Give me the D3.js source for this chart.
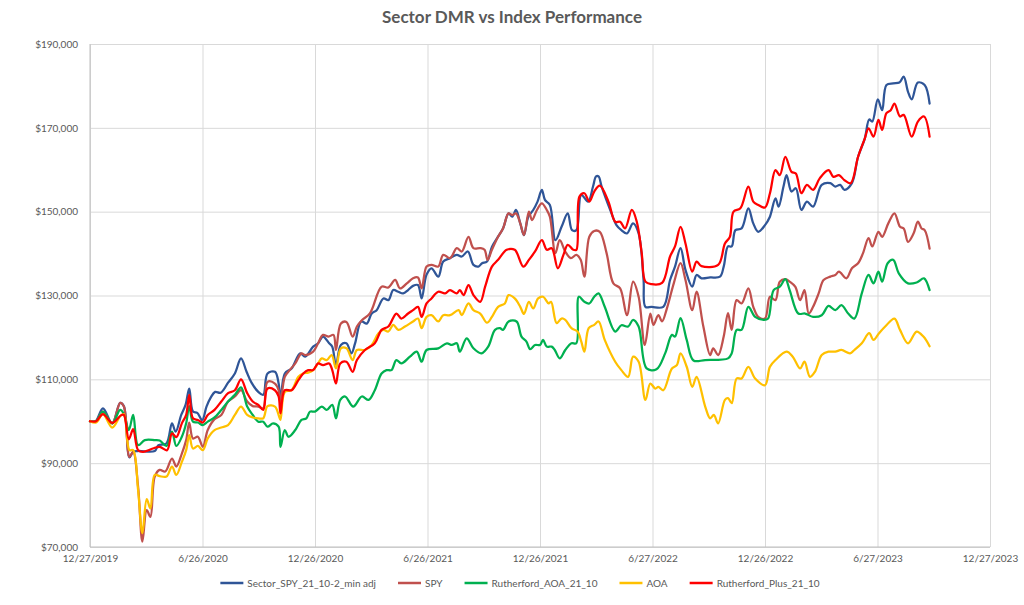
<!DOCTYPE html>
<html><head><meta charset="utf-8">
<script src="https://cdn.jsdelivr.net/npm/d3@7/dist/d3.min.js"></script>
<style>
body{margin:0;background:#fff;}
text{font-family:Lato,"Open Sans",sans-serif;}
</style>
</head><body>
<svg id="chart" width="1024" height="605"></svg>
<script>
// Values in $ thousands; first number of each pair = days after 12/27/2019
const chartTitle = "Sector DMR vs Index Performance";
const xTickDays = [0, 182.5, 365, 547.5, 730, 912.5, 1095, 1277.5, 1460];
const xTickLabels = ["12/27/2019","6/26/2020","12/26/2020","6/26/2021","12/26/2021","6/27/2022","12/26/2022","6/27/2023","12/27/2023"];
const yTicks = [70, 90, 110, 130, 150, 170, 190];
const seriesNames = ["Sector_SPY_21_10-2_min adj","SPY","Rutherford_AOA_21_10","AOA","Rutherford_Plus_21_10"];

const sectorSeries = [[0,100.0],[9,100.0],[21,103.1],[36,99.5],[49,104.4],[55,103.6],[64,91.4],[70,92.7],[78,92.9],[105,92.9],[111,94.3],[124,94.7],[133,99.5],[139,97.5],[148,101.5],[155,103.9],[161,107.8],[167,102.3],[174,102.0],[182,100.3],[189,103.5],[196,105.7],[203,107.0],[212,106.8],[224,109.2],[235,111.4],[245,115.0],[254,111.8],[262,109.2],[273,107.0],[281,106.3],[288,111.4],[300,111.8],[306,109.0],[309,105.1],[316,111.4],[327,112.6],[341,116.2],[349,115.4],[362,117.8],[370,118.6],[378,120.2],[388,118.6],[393,117.8],[399,113.4],[407,118.2],[416,118.6],[424,116.2],[430,118.6],[440,123.8],[449,123.3],[457,125.7],[465,126.5],[476,129.3],[484,128.9],[492,131.3],[500,130.9],[508,130.5],[516,131.3],[524,132.3],[532,132.5],[538,129.3],[546,135.0],[554,136.5],[565,134.5],[573,138.1],[584,138.9],[595,139.7],[603,139.3],[613,140.5],[622,137.3],[630,136.9],[636,137.7],[644,138.1],[652,141.6],[660,143.6],[670,146.0],[679,149.6],[685,148.8],[691,150.4],[698,147.2],[704,144.4],[711,148.8],[719,150.4],[726,152.4],[733,155.2],[738,152.8],[746,151.6],[755,143.2],[765,146.4],[775,149.6],[782,145.6],[789,145.6],[797,154.0],[808,152.4],[816,156.0],[821,158.4],[825,158.4],[830,156.0],[844,150.4],[854,146.8],[862,145.6],[871,144.8],[881,147.2],[890,144.8],[898,133.7],[901,127.3],[911,127.3],[930,127.3],[941,133.7],[949,136.9],[958,141.3],[966,136.1],[977,132.1],[984,134.9],[992,134.1],[1006,134.3],[1022,134.5],[1028,136.9],[1035,141.7],[1041,141.7],[1047,145.6],[1057,146.0],[1068,150.8],[1076,147.2],[1084,145.2],[1095,146.8],[1103,148.8],[1112,153.2],[1117,151.2],[1125,156.0],[1130,158.7],[1138,154.8],[1145,155.6],[1154,150.4],[1163,152.4],[1173,151.2],[1187,156.4],[1201,156.8],[1209,156.0],[1217,156.4],[1224,155.2],[1236,156.8],[1246,163.1],[1257,167.5],[1264,172.0],[1269,171.5],[1278,176.8],[1285,174.2],[1292,180.2],[1303,180.6],[1313,180.8],[1320,182.2],[1327,178.6],[1333,176.8],[1343,180.8],[1354,180.2],[1362,175.8]];

const spySeries = [[0,100.0],[10,100.0],[21,102.3],[36,99.5],[49,104.4],[55,103.5],[64,91.5],[70,92.7],[78,84.4],[85,71.3],[92,78.8],[98,77.2],[105,86.8],[113,88.4],[122,88.0],[133,91.1],[140,89.2],[149,92.3],[156,95.5],[161,99.7],[167,95.9],[175,96.3],[183,93.9],[191,97.9],[202,100.5],[213,101.5],[224,104.7],[235,105.9],[245,107.4],[255,104.7],[264,103.6],[273,103.5],[281,103.1],[288,109.4],[300,109.0],[306,107.4],[309,104.3],[316,110.6],[324,112.2],[333,113.8],[343,116.2],[349,115.8],[362,116.6],[370,118.6],[378,120.6],[387,120.2],[395,120.6],[399,117.0],[407,123.3],[416,123.7],[426,120.2],[433,122.6],[441,124.1],[454,125.7],[473,132.1],[484,131.9],[495,133.7],[503,131.7],[514,132.9],[524,134.1],[532,134.3],[538,131.7],[546,136.9],[554,137.3],[565,136.9],[573,139.7],[584,138.9],[595,141.3],[603,140.5],[614,144.0],[622,141.3],[633,141.3],[640,140.9],[645,138.5],[652,140.9],[662,144.0],[670,146.0],[679,149.6],[685,149.2],[691,149.6],[698,147.2],[704,144.4],[712,150.0],[717,148.0],[725,150.4],[733,152.0],[741,150.4],[746,148.8],[755,140.1],[762,143.2],[771,140.5],[780,138.9],[789,139.7],[796,138.5],[802,134.5],[810,144.0],[818,145.4],[827,145.2],[838,140.1],[849,132.9],[860,131.7],[871,125.3],[881,133.3],[890,129.7],[900,118.2],[909,125.7],[914,123.0],[922,125.3],[928,123.8],[936,127.0],[947,132.9],[958,137.7],[966,133.7],[977,126.5],[984,130.9],[995,122.6],[1006,115.8],[1011,117.4],[1019,115.8],[1028,120.2],[1035,125.8],[1041,121.8],[1049,128.9],[1057,128.1],[1068,131.7],[1076,127.3],[1084,124.9],[1095,124.5],[1103,129.7],[1112,128.9],[1119,133.3],[1128,133.9],[1135,133.3],[1144,132.1],[1152,128.9],[1159,131.3],[1166,125.7],[1173,127.3],[1182,130.5],[1190,133.7],[1201,134.5],[1209,134.9],[1215,135.7],[1227,134.1],[1236,136.5],[1246,137.7],[1254,140.1],[1263,143.7],[1269,141.7],[1279,145.2],[1285,144.0],[1295,147.2],[1305,149.6],[1314,146.4],[1320,146.0],[1327,142.8],[1336,144.8],[1343,147.6],[1349,146.0],[1354,145.6],[1362,141.2]];

const ruthAoaSeries = [[0,100.0],[10,100.0],[21,102.3],[36,99.5],[49,102.7],[55,101.7],[63,97.9],[70,101.5],[78,94.3],[89,95.5],[105,95.5],[113,95.4],[124,94.1],[133,97.5],[140,94.1],[149,96.3],[156,99.5],[161,103.6],[167,99.9],[175,99.7],[183,99.1],[191,99.9],[202,100.9],[213,102.7],[224,104.7],[235,106.3],[245,108.1],[255,103.5],[264,101.5],[273,99.9],[281,99.9],[288,98.7],[297,99.5],[306,98.7],[309,93.9],[316,97.9],[322,96.3],[333,97.9],[343,100.3],[351,100.7],[357,102.3],[365,102.3],[376,103.5],[384,102.7],[393,103.9],[399,100.7],[406,105.1],[414,105.9],[427,103.5],[441,105.9],[452,105.1],[462,107.4],[473,111.4],[481,112.2],[489,112.2],[497,114.6],[505,113.8],[519,115.4],[530,116.6],[538,114.2],[546,117.0],[565,117.4],[579,118.6],[587,118.2],[595,118.6],[600,116.6],[611,119.8],[622,117.4],[635,116.2],[646,117.8],[657,121.8],[665,122.2],[670,121.8],[679,123.8],[692,123.8],[700,120.2],[708,119.0],[714,117.2],[722,118.2],[730,118.2],[735,119.4],[741,117.8],[749,117.8],[754,117.0],[762,115.0],[771,117.0],[781,118.6],[789,118.6],[793,129.7],[802,128.5],[810,128.1],[818,129.7],[825,130.5],[835,127.3],[852,121.4],[862,122.9],[873,122.6],[881,124.2],[890,122.6],[903,112.6],[919,112.4],[933,116.2],[944,120.6],[949,120.2],[958,124.6],[968,119.4],[979,114.5],[998,114.6],[1035,115.0],[1041,116.2],[1049,121.8],[1057,121.8],[1068,127.3],[1079,124.9],[1093,124.2],[1100,124.5],[1109,131.3],[1119,132.1],[1128,133.9],[1135,131.3],[1149,125.7],[1160,125.7],[1173,124.9],[1187,125.3],[1198,127.5],[1209,126.5],[1219,127.7],[1230,125.7],[1240,124.5],[1252,130.5],[1263,134.9],[1271,132.9],[1279,135.7],[1285,133.3],[1294,137.7],[1303,138.5],[1312,135.3],[1327,132.9],[1341,133.1],[1353,134.1],[1362,131.3]];

const aoaSeries = [[0,100.0],[10,99.7],[21,101.7],[36,98.5],[49,101.2],[55,101.7],[64,93.1],[70,93.1],[78,83.6],[85,73.3],[92,81.4],[98,79.2],[105,87.2],[113,86.9],[124,86.8],[133,89.2],[140,87.2],[149,90.3],[156,93.1],[161,96.7],[167,93.5],[175,94.1],[183,93.1],[191,95.9],[202,97.9],[213,98.5],[224,99.1],[235,101.5],[245,103.5],[255,101.5],[264,100.9],[273,100.7],[281,100.7],[288,103.6],[300,103.5],[306,101.5],[309,100.3],[316,107.0],[327,107.4],[338,110.6],[346,111.4],[354,111.6],[362,112.2],[370,113.8],[376,115.0],[384,114.6],[392,115.8],[399,112.6],[407,117.4],[416,117.4],[426,114.6],[433,117.0],[446,117.0],[457,118.2],[468,121.0],[476,121.8],[484,121.4],[492,123.0],[500,121.8],[511,122.6],[524,123.8],[532,124.5],[538,122.2],[546,124.9],[554,125.3],[565,123.8],[573,125.3],[584,125.3],[598,126.5],[603,125.3],[614,128.1],[622,126.5],[633,125.7],[644,123.5],[652,124.9],[662,127.3],[673,128.1],[679,130.1],[689,129.3],[698,127.3],[704,125.6],[712,128.5],[719,126.9],[727,129.3],[735,129.7],[744,128.1],[748,128.5],[757,123.4],[765,124.5],[771,124.2],[781,122.2],[791,121.4],[797,119.0],[802,116.6],[809,122.2],[818,123.0],[825,123.8],[835,119.4],[852,114.2],[862,112.2],[873,110.6],[881,115.4],[890,114.2],[901,105.1],[909,109.0],[917,107.8],[922,108.2],[930,107.4],[944,112.6],[952,113.4],[958,116.2],[968,113.0],[977,108.2],[984,110.6],[998,103.5],[1006,100.7],[1012,101.5],[1019,99.5],[1030,105.1],[1035,105.5],[1041,104.3],[1049,110.2],[1057,110.2],[1068,113.0],[1079,110.2],[1095,108.6],[1103,113.0],[1112,114.6],[1130,116.6],[1140,115.4],[1152,112.6],[1159,114.2],[1168,110.6],[1176,111.8],[1187,115.8],[1198,116.6],[1209,116.6],[1219,117.0],[1233,116.2],[1240,117.0],[1252,118.6],[1264,121.0],[1271,119.4],[1280,121.0],[1290,122.6],[1305,124.5],[1314,121.8],[1327,118.6],[1341,121.4],[1352,120.2],[1362,117.9]];

const ruthPlusSeries = [[0,100.0],[10,100.0],[21,101.7],[36,99.6],[51,101.5],[55,101.5],[63,95.7],[70,98.1],[78,93.1],[86,92.7],[102,93.5],[113,93.9],[125,93.1],[133,97.1],[140,96.2],[149,99.5],[156,101.5],[161,106.3],[167,100.7],[175,100.3],[183,99.7],[191,101.5],[202,102.7],[213,104.7],[224,106.7],[235,107.4],[245,110.0],[255,106.7],[264,104.7],[273,103.9],[281,102.7],[288,107.8],[300,107.4],[306,105.9],[309,101.9],[316,107.4],[327,107.4],[338,109.8],[346,111.4],[354,112.2],[362,112.2],[370,113.8],[378,113.4],[388,113.8],[393,112.2],[399,109.0],[406,113.8],[416,114.2],[426,111.8],[433,114.6],[446,117.0],[462,118.6],[473,121.8],[484,122.6],[497,125.7],[505,124.5],[516,125.7],[524,126.5],[532,127.3],[538,124.9],[546,128.1],[554,129.3],[565,130.9],[576,130.5],[584,131.3],[595,130.5],[600,131.3],[606,130.1],[614,132.5],[622,130.1],[633,128.5],[641,132.1],[652,136.9],[662,138.5],[676,140.9],[689,140.9],[703,136.9],[712,138.5],[722,140.5],[733,143.2],[741,140.9],[749,141.3],[759,136.5],[768,139.7],[775,142.1],[784,140.9],[789,140.9],[794,153.6],[802,154.4],[810,152.4],[818,154.8],[827,156.2],[841,152.4],[852,147.6],[860,147.6],[868,146.0],[879,150.4],[887,147.6],[895,140.1],[901,133.3],[911,132.7],[928,133.0],[941,139.3],[949,141.7],[958,146.4],[966,142.4],[977,135.7],[984,138.1],[992,137.0],[1019,137.3],[1030,142.4],[1038,144.0],[1044,150.0],[1055,150.8],[1068,156.0],[1076,152.4],[1084,151.6],[1095,151.0],[1103,154.4],[1112,159.9],[1119,158.7],[1128,163.1],[1138,159.5],[1145,159.1],[1154,154.4],[1163,156.4],[1173,155.2],[1184,158.0],[1198,159.9],[1206,158.3],[1215,158.7],[1224,157.5],[1234,156.8],[1246,163.1],[1257,167.5],[1263,169.9],[1271,167.9],[1279,171.9],[1285,169.5],[1292,173.5],[1299,174.2],[1305,175.8],[1314,172.7],[1320,173.1],[1333,167.9],[1343,171.5],[1353,172.7],[1362,167.9]];

const seriesColors = ["#2F5597","#C0504D","#00B050","#FFC000","#FF0000"];

(function () {
  const svg = d3.select("#chart");
  const W = 1024, H = 605;
  const pLeft = 90, pRight = 990, pTop = 44, pBottom = 547;
  const x = d3.scaleLinear().domain([0, 1460]).range([pLeft, pRight]);
  const y = d3.scaleLinear().domain([70, 190]).range([pBottom, pTop]);
  const textColor = "#595959";
  const gridColor = "#D9D9D9";
  const fontFam = "Lato, 'Open Sans', sans-serif";
  const smallFont = 10;

  svg.append("rect").attr("width", W).attr("height", H).attr("fill", "#fff");

  svg.append("text").attr("x", 512).attr("y", 23).attr("text-anchor", "middle")
    .attr("font-size", 17).attr("font-weight", "bold").attr("fill", textColor).text(chartTitle);

  const yAxis = d3.axisLeft(y).tickValues(yTicks).tickSize(-(pRight - pLeft)).tickPadding(12)
    .tickFormat(d => "$" + d3.format(",")(d * 1000));
  const gy = svg.append("g").attr("transform", `translate(${pLeft},0)`).call(yAxis);
  gy.select(".domain").remove();
  gy.selectAll(".tick line").attr("stroke", gridColor).attr("stroke-width", 1);
  gy.selectAll(".tick text").attr("fill", textColor).attr("font-size", smallFont).attr("font-family", fontFam);

  const xAxis = d3.axisBottom(x).tickValues(xTickDays).tickSize(-(pBottom - pTop)).tickPadding(8)
    .tickFormat((d, i) => xTickLabels[i]);
  const gx = svg.append("g").attr("transform", `translate(0,${pBottom})`).call(xAxis);
  gx.select(".domain").remove();
  gx.selectAll(".tick line").attr("stroke", gridColor).attr("stroke-width", 1);
  gx.selectAll(".tick text").attr("fill", textColor).attr("font-size", smallFont).attr("font-family", fontFam);

  svg.append("line").attr("x1", pLeft).attr("x2", pLeft).attr("y1", pTop).attr("y2", pBottom)
    .attr("stroke", "#BFBFBF").attr("stroke-width", 1);
  svg.append("line").attr("x1", pLeft).attr("x2", pRight).attr("y1", pBottom).attr("y2", pBottom)
    .attr("stroke", "#BFBFBF").attr("stroke-width", 1);

  const line = d3.line().x(d => x(d[0])).y(d => y(d[1])).curve(d3.curveCatmullRom.alpha(0.5));
  const allSeries = [sectorSeries, spySeries, ruthAoaSeries, aoaSeries, ruthPlusSeries];
  allSeries.forEach((s, i) => {
    svg.append("path").datum(s).attr("d", line).attr("fill", "none")
      .attr("stroke", seriesColors[i]).attr("stroke-width", 2.25)
      .attr("stroke-linejoin", "round").attr("stroke-linecap", "round");
  });

  // legend
  const lg = svg.append("g");
  let cx = 0;
  const swatch = 23, gap = 4, spacing = 22;
  seriesNames.forEach((n, i) => {
    const g = lg.append("g").attr("transform", `translate(${cx},0)`);
    g.append("line").attr("x1", 0).attr("x2", swatch).attr("y1", 0).attr("y2", 0)
      .attr("stroke", seriesColors[i]).attr("stroke-width", 2.5);
    const t = g.append("text").attr("x", swatch + gap).attr("y", 3.5).attr("font-size", smallFont)
      .attr("fill", textColor).text(n);
    const w = t.node().getComputedTextLength();
    cx += swatch + gap + w + spacing;
  });
  const totalW = cx - spacing;
  lg.attr("transform", `translate(${520 - totalW / 2},583)`);
})();
</script>
</body></html>
